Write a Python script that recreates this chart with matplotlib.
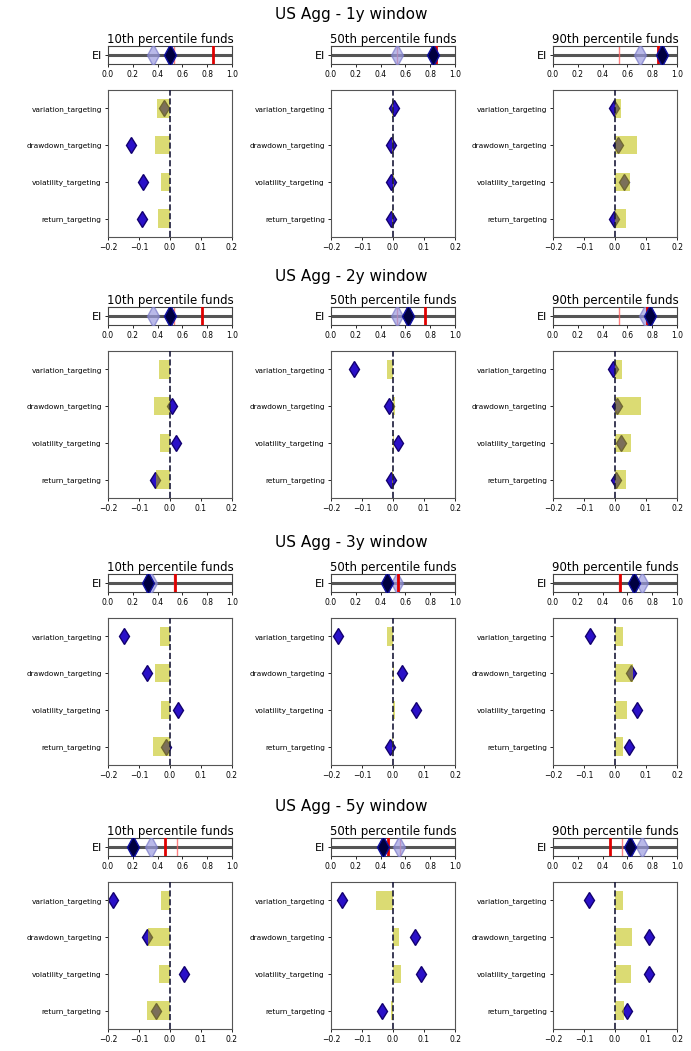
import numpy as np
import matplotlib
matplotlib.use("Agg")
import matplotlib.pyplot as plt

windows = ["1y", "2y", "3y", "5y"]
percentiles = ["10th", "50th", "90th"]
categories = ["return_targeting", "volatility_targeting", "drawdown_targeting", "variation_targeting"]

# yellow bars, per window -> per percentile, ordered as categories (bottom to top)
bars_1y = [[-0.040, -0.029, -0.048, -0.043], [-0.003, 0.004, -0.004, -0.004], [0.035, 0.048, 0.070, 0.018]]
bars_2y = [[-0.045, -0.031, -0.050, -0.037], [-0.003, 0.003, 0.007, -0.019], [0.037, 0.052, 0.085, 0.023]]
bars_3y = [[-0.056, -0.030, -0.048, -0.033], [-0.003, 0.005, 0.003, -0.020], [0.025, 0.040, 0.058, 0.025]]
bars_5y = [[-0.075, -0.035, -0.070, -0.030], [-0.005, 0.025, 0.020, -0.055], [0.030, 0.050, 0.055, 0.025]]

# blue diamonds
dia_1y = [[-0.091, -0.086, -0.127, -0.020], [-0.005, -0.008, -0.008, 0.002], [-0.002, 0.028, 0.010, -0.002]]
dia_2y = [[-0.047, 0.020, 0.006, np.nan], [-0.008, 0.016, -0.012, -0.125], [0.004, 0.020, 0.005, -0.008]]
dia_3y = [[-0.014, 0.026, -0.074, -0.147], [-0.010, 0.075, 0.030, -0.178], [0.045, 0.070, 0.050, -0.080]]
dia_5y = [[-0.045, 0.045, -0.075, -0.185], [-0.035, 0.090, 0.070, -0.165], [0.040, 0.110, 0.110, -0.085]]

# EI strip values
ei_fund = [[0.50, 0.82, 0.88], [0.50, 0.62, 0.78], [0.32, 0.45, 0.65], [0.20, 0.42, 0.62]]
ei_peer = [[0.36, 0.53, 0.70], [0.36, 0.53, 0.74], [0.35, 0.53, 0.72], [0.35, 0.55, 0.72]]
ei_thick = [0.85, 0.76, 0.54, 0.46]
ei_thin = [0.53, 0.53, 0.53, 0.56]

bars_all = [bars_1y, bars_2y, bars_3y, bars_5y]
dia_all = [dia_1y, dia_2y, dia_3y, dia_5y]

W, H = 691, 1051
fig = plt.figure(figsize=(W / 100, H / 100), dpi=100)

col_left = [108, 331, 553]
col_w = 124
bar_top = [90, 351, 618, 882]
bar_h = 147

def frac(x, y, w, h):
    return [x / W, 1 - (y + h) / H, w / W, h / H]

ypos = np.arange(len(categories))
for b, win in enumerate(windows):
    top = bar_top[b]
    fig.text(351 / W, 1 - (top - 75) / H, f"US Agg - {win} window",
             ha="center", va="center", fontsize=11)
    for c, pct in enumerate(percentiles):
        x0 = col_left[c]
        # EI strip
        ax_ei = fig.add_axes(frac(x0, top - 44, col_w, 18))
        ax_ei.axhline(0, color="#555555", lw=2.2, zorder=1)
        ax_ei.axvline(ei_thin[b], color="#ff6060", lw=1.0, alpha=0.8, zorder=2)
        ax_ei.axvline(ei_thick[b], color="#e00000", lw=2.0, zorder=4)
        ax_ei.plot([ei_peer[b][c]], [0], marker="d", ms=11, mfc="#9c9ce0", mec="#7a7ac8",
                   alpha=0.7, ls="none", zorder=3)
        ax_ei.plot([ei_fund[b][c]], [0], marker="d", ms=11, mfc="#000040", mec="#1010a0",
                   ls="none", zorder=5)
        ax_ei.set_xlim(0, 1)
        ax_ei.set_ylim(-1, 1)
        ax_ei.set_yticks([0])
        ax_ei.set_yticklabels(["EI"], fontsize=8)
        ax_ei.set_xticks(np.arange(0, 1.01, 0.2))
        ax_ei.set_xticklabels([f"{v:.1f}" for v in np.arange(0, 1.01, 0.2)], fontsize=5.5)
        ax_ei.tick_params(length=2.5, width=0.6, pad=2)
        ax_ei.set_title(f"{pct} percentile funds", fontsize=8.5, pad=2)
        for s in ax_ei.spines.values():
            s.set_color("#444444")
            s.set_linewidth(0.8)

        # bar panel
        ax = fig.add_axes(frac(x0, top, col_w, bar_h))
        ax.plot(dia_all[b][c], ypos, marker="d", ms=8, mfc="#2a10c8", mec="#120070",
                ls="none", zorder=2)
        ax.barh(ypos, bars_all[b][c], height=0.5, color="y", alpha=0.55, zorder=3)
        ax.axvline(0, color="#1a1a3a", ls="--", lw=1.2, zorder=4)
        ax.set_xlim(-0.2, 0.2)
        ax.set_ylim(-0.5, 3.5)
        ax.set_xticks([-0.2, -0.1, 0.0, 0.1, 0.2])
        ax.set_xticklabels(["\u22120.2", "\u22120.1", "0.0", "0.1", "0.2"], fontsize=5.5)
        ax.set_yticks(ypos)
        ax.set_yticklabels(categories, fontsize=5.3)
        ax.tick_params(length=2.5, width=0.6, pad=2)
        for s in ax.spines.values():
            s.set_color("#555555")
            s.set_linewidth(0.8)

fig.savefig("out.png", dpi=100)
